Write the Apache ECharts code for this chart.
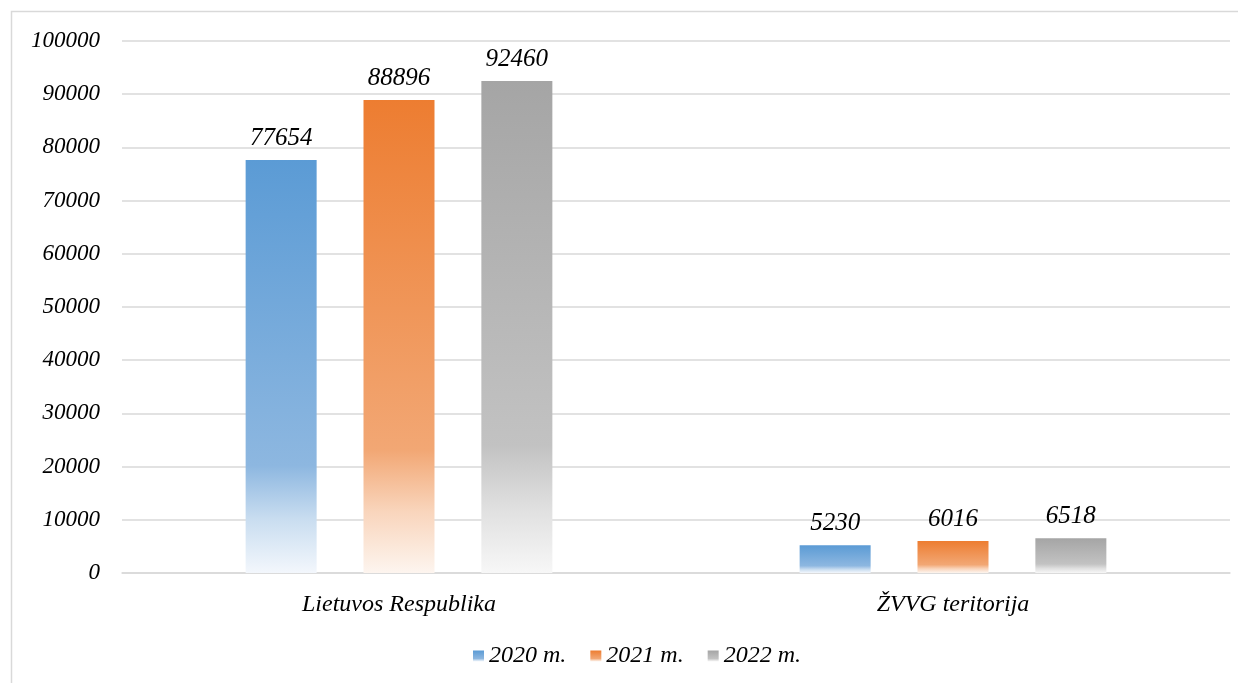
<!DOCTYPE html>
<html><head><meta charset="utf-8">
<script src="https://cdn.jsdelivr.net/npm/echarts@6/dist/echarts.min.js"></script>
<style>html,body{margin:0;padding:0;background:#fff}#c{width:1238px;height:683px}</style>
</head><body><div id="c"></div>
<script>
const categories = ['Lietuvos Respublika', 'ŽVVG teritorija'];
const seriesNames = ['2020 m.', '2021 m.', '2022 m.'];
const v2020 = [77654, 5230];
const v2021 = [88896, 6016];
const v2022 = [92460, 6518];
const yTicks = [0, 10000, 20000, 30000, 40000, 50000, 60000, 70000, 80000, 90000, 100000];

const FONT = '"Liberation Serif", "Times New Roman", serif';
const baseColors = [
  ['#5B9BD5', '#8DB7E0', '#C9DDF0', '#F3F7FC'],
  ['#ED7D31', '#F2A774', '#F9D5BC', '#FDF5EF'],
  ['#A5A5A5', '#C2C2C2', '#E0E0E0', '#F7F7F7']
];
function grad(c) {
  return new echarts.graphic.LinearGradient(0, 0, 0, 1, [
    {offset: 0, color: c[0]},
    {offset: 0.74, color: c[1]},
    {offset: 0.87, color: c[2]},
    {offset: 1, color: c[3]}
  ]);
}
const values = [v2020, v2021, v2022];
const chart = echarts.init(document.getElementById('c'), null, {renderer: 'canvas'});
chart.setOption({
  backgroundColor: '#fff',
  animation: false,
  graphic: [{type: 'rect', shape: {x: 11.5, y: 11.5, width: 1240, height: 690}, style: {fill: 'none', stroke: '#D9D9D9', lineWidth: 1.5}, silent: true}],
  grid: {left: 122, right: 8, top: 41, bottom: 110, containLabel: false},
  legend: {
    bottom: 10, left: 468, itemWidth: 11, itemHeight: 11, itemGap: 24,
    icon: 'rect',
    textStyle: {fontFamily: FONT, fontStyle: 'italic', fontSize: 24, color: '#000'},
    data: seriesNames
  },
  xAxis: {
    type: 'category', data: categories,
    axisLine: {show: true, lineStyle: {color: '#D9D9D9', width: 1.5}},
    axisTick: {show: false},
    axisLabel: {fontFamily: FONT, fontStyle: 'italic', fontSize: 24, color: '#000', margin: 20}
  },
  yAxis: {
    type: 'value', min: 0, max: 100000, interval: 10000,
    axisLine: {show: false}, axisTick: {show: false},
    splitLine: {lineStyle: {color: '#D9D9D9', width: 1.5}},
    axisLabel: {fontFamily: FONT, fontStyle: 'italic', fontSize: 23, color: '#000', margin: 22,
      formatter: v => yTicks.includes(v) ? String(v) : ''}
  },
  series: seriesNames.map((n, i) => ({
    name: n, type: 'bar', data: values[i], barWidth: 71, barGap: '66%',
    itemStyle: {color: grad(baseColors[i])},
    label: {show: true, position: 'top', distance: 9, fontFamily: FONT, fontStyle: 'italic', fontSize: 25, color: '#000'}
  }))
});
</script></body></html>
